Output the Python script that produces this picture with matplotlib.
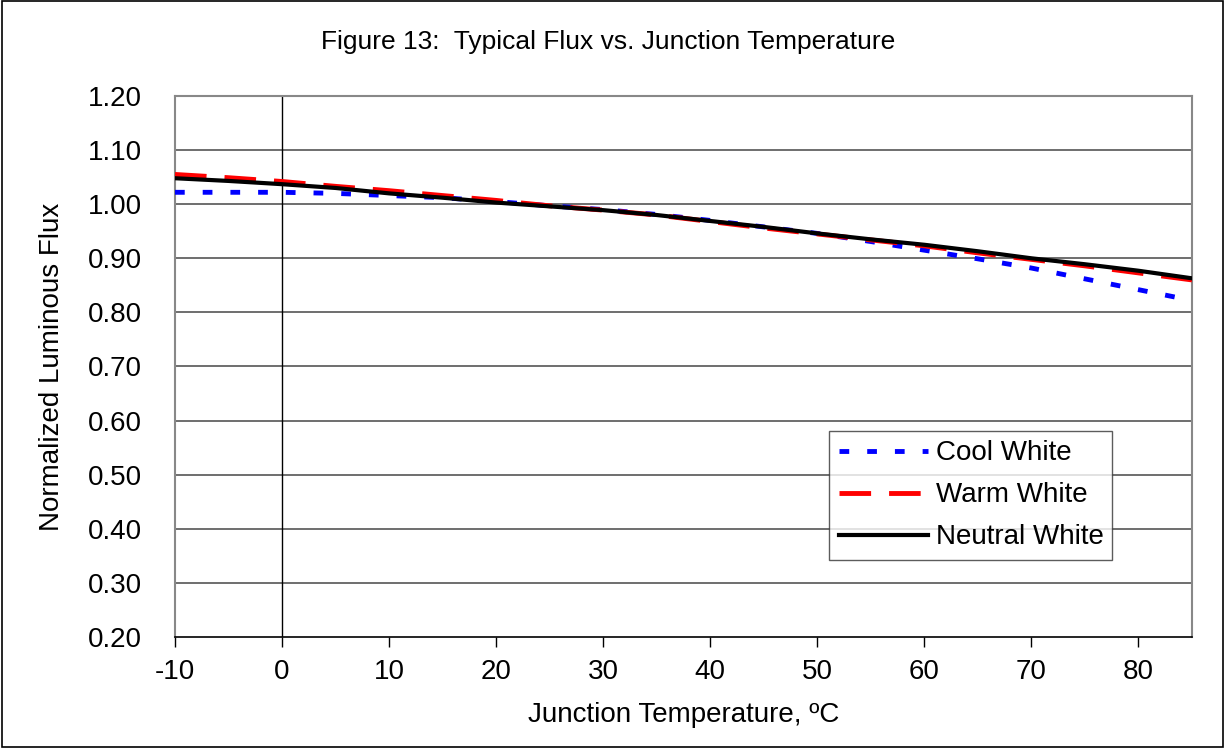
import matplotlib
matplotlib.use("Agg")
import matplotlib.pyplot as plt
from matplotlib.patches import Rectangle

plt.rcParams["font.family"] = ["Liberation Sans", "DejaVu Sans"]
plt.rcParams["axes.unicode_minus"] = False

# junction temperature, degC
TEMPS = [-10, -5, 0, 5, 10, 15, 20, 25, 30, 35, 40, 45, 50, 55, 60, 65, 70, 75, 80, 85]

# normalized luminous flux
COOL = [1.022, 1.022, 1.022, 1.020, 1.016, 1.012, 1.005, 0.997, 0.990, 0.981, 0.970, 0.958,
        0.946, 0.931, 0.915, 0.899, 0.882, 0.862, 0.842, 0.822]
WARM = [1.055, 1.049, 1.042, 1.033, 1.025, 1.016, 1.007, 0.997, 0.989, 0.980, 0.968, 0.956,
        0.945, 0.934, 0.923, 0.910, 0.898, 0.886, 0.873, 0.860]
NEUTRAL = [1.048, 1.043, 1.037, 1.030, 1.020, 1.012, 1.003, 0.996, 0.989, 0.980, 0.969, 0.958,
           0.946, 0.935, 0.925, 0.913, 0.900, 0.889, 0.877, 0.863]

Y_TICKS = [0.2, 0.3, 0.4, 0.5, 0.6, 0.7, 0.8, 0.9, 1.0, 1.1, 1.2]
X_TICKS = [-10, 0, 10, 20, 30, 40, 50, 60, 70, 80]

fig = plt.figure(figsize=(12.25, 7.48), dpi=100)
ax = fig.add_axes([175 / 1225, 1 - 637 / 748, 1017 / 1225, 541 / 748])

# outer frame round the whole chart
fig.patches.append(Rectangle((0.002, 0.002), 0.996, 0.996, transform=fig.transFigure,
                             fill=False, edgecolor="black", linewidth=1.2))

for y in Y_TICKS[1:-1]:
    ax.axhline(y, color="#555555", linewidth=1.2, zorder=1)
ax.axvline(0, color="black", linewidth=1.0, zorder=1)

ax.plot(TEMPS, COOL, color="blue", linestyle=(0, (2, 3.7)), linewidth=3.5, label="Cool White", zorder=3)
ax.plot(TEMPS, WARM, color="red", linestyle=(0, (6.5, 3.7)), linewidth=3.5, label="Warm White", zorder=3)
ax.plot(TEMPS, NEUTRAL, color="black", linestyle="-", linewidth=3.0, label="Neutral White", zorder=4)

ax.set_xlim(-10, 85)
ax.set_ylim(0.2, 1.2)
ax.set_xticks(X_TICKS)
ax.set_yticks(Y_TICKS)
ax.set_yticklabels([f"{v:.2f}" for v in Y_TICKS])
ax.tick_params(axis="x", direction="out", length=7, width=1, labelsize=20, pad=9)
ax.tick_params(axis="y", length=0, labelsize=20, pad=24)

for side in ["top", "right", "left"]:
    ax.spines[side].set_color("#888888")
    ax.spines[side].set_linewidth(1.5)
ax.spines["bottom"].set_color("black")
ax.spines["bottom"].set_linewidth(1.2)

ax.set_xlabel("Junction Temperature, ºC", fontsize=20, labelpad=12)
ax.set_ylabel("Normalized Luminous Flux", fontsize=20, labelpad=16)
fig.text(608 / 1225, 1 - 42 / 748, "Figure 13:  Typical Flux vs. Junction Temperature",
         ha="center", va="center", fontsize=19)

leg = ax.legend(loc="lower left", bbox_to_anchor=(0.643, 0.142, 0.278, 0.237), mode="expand",
                fontsize=20, frameon=True, fancybox=False, handlelength=3.2, handletextpad=0.3,
                borderaxespad=0, borderpad=0.35, labelspacing=0.58)
leg.get_frame().set_edgecolor("#333333")
leg.get_frame().set_linewidth(1.0)

fig.savefig("out.png", dpi=100)
